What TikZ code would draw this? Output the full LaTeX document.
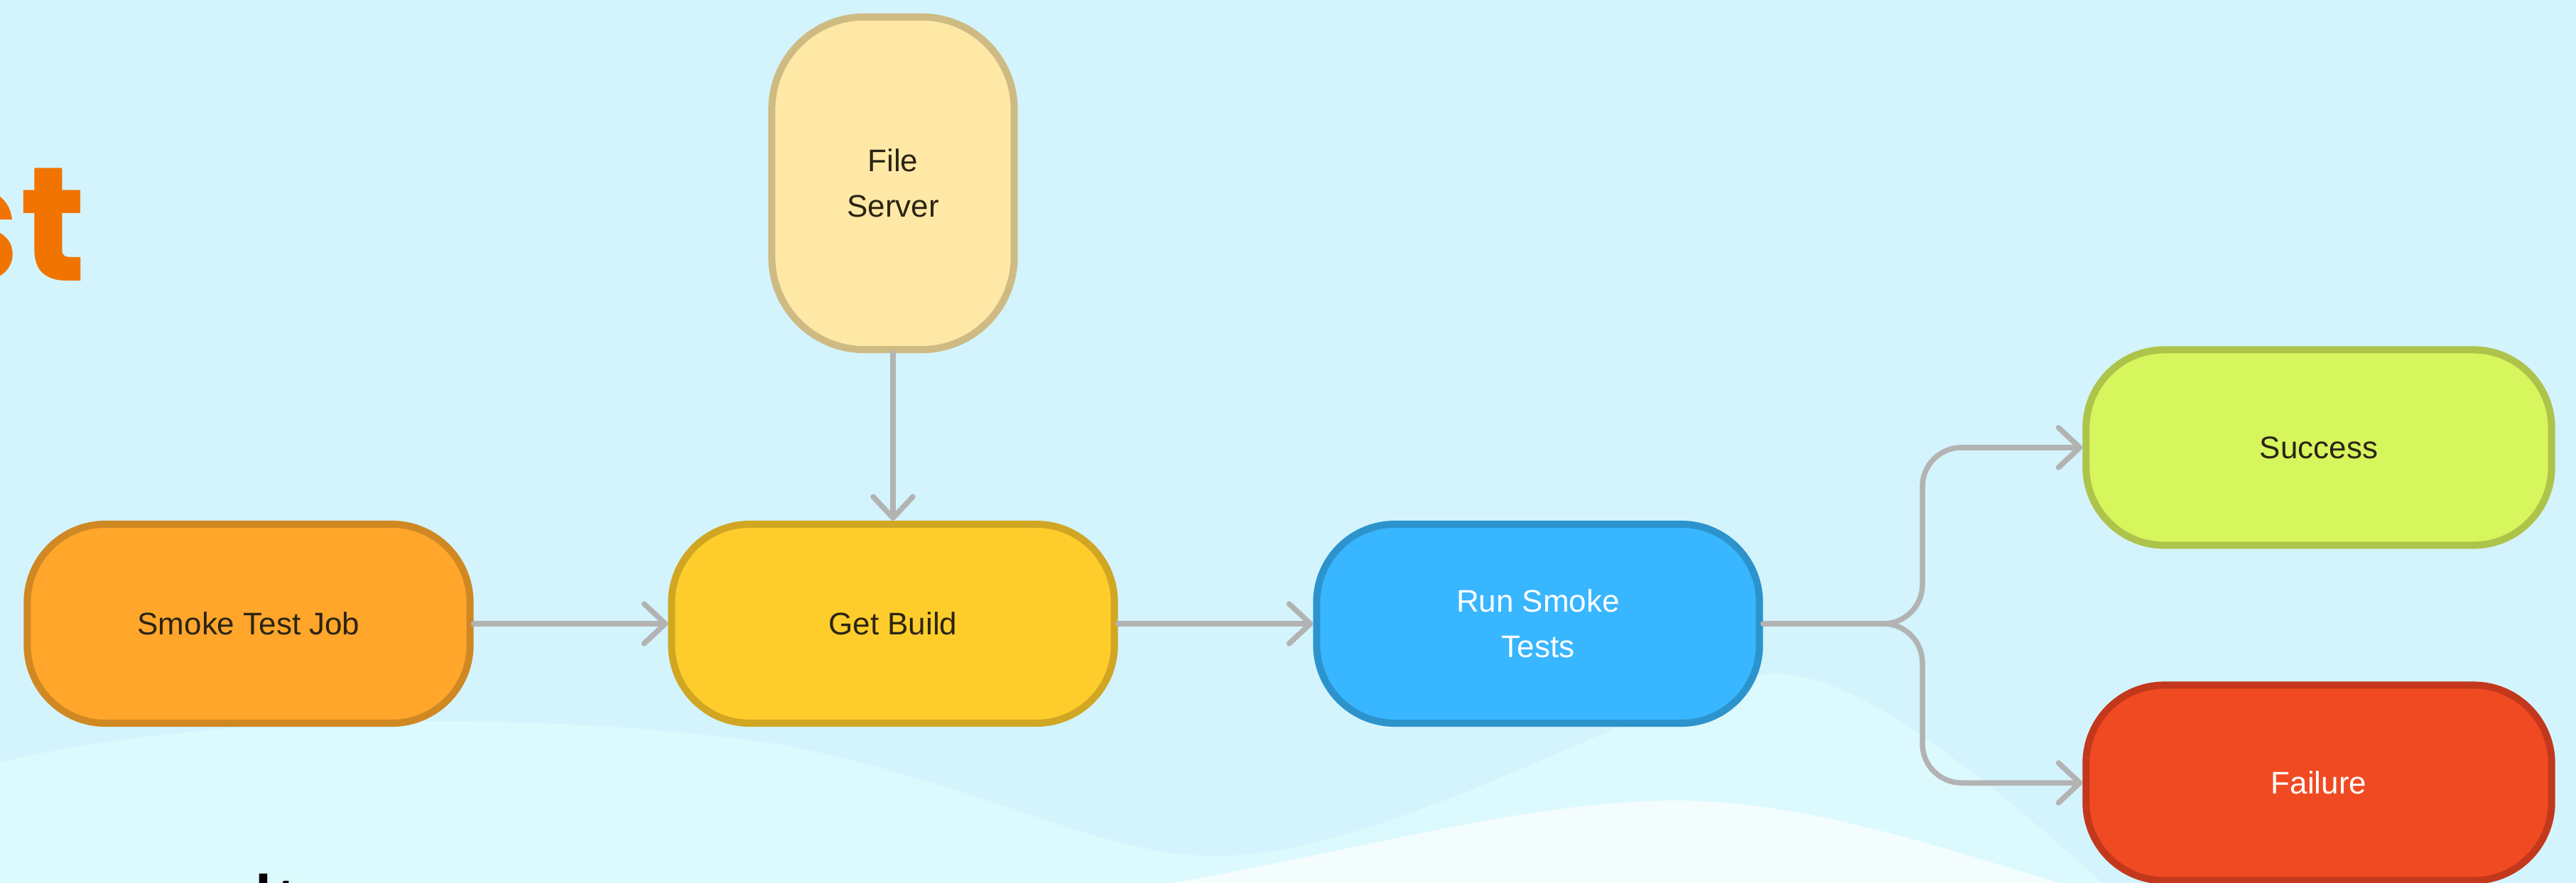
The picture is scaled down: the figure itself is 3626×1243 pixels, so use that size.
\documentclass[tikz,border=0pt]{standalone}
\usepackage{fontspec}
\setmainfont{Liberation Sans}
\newfontfamily\titlefont{Poppins}
\usetikzlibrary{arrows.meta}

\definecolor{skyBg}{HTML}{D3F4FD}
\definecolor{skyLight}{HTML}{DCF9FE}
\definecolor{flowGray}{HTML}{B3B3B3}
\definecolor{inkDark}{HTML}{2B2413}
\definecolor{jobFill}{HTML}{FFA62B}
\definecolor{jobLine}{HTML}{D08823}
\definecolor{serverFill}{HTML}{FFE8A6}
\definecolor{serverLine}{HTML}{CEBB83}
\definecolor{buildFill}{HTML}{FECD2C}
\definecolor{buildLine}{HTML}{D1A623}
\definecolor{runFill}{HTML}{38B6FF}
\definecolor{runLine}{HTML}{2C93CD}
\definecolor{okFill}{HTML}{D7F55C}
\definecolor{okLine}{HTML}{AEC34A}
\definecolor{failFill}{HTML}{F04A22}
\definecolor{failLine}{HTML}{C3381C}
\definecolor{titleOrange}{HTML}{F27400}

\begin{document}
\begin{tikzpicture}[x=0.01cm, y=-0.01cm,
  stage/.style={draw, line width=0.1cm, rounded corners=1.1cm,
    minimum width=6.23cm, minimum height=2.8cm, align=center,
    text=inkDark, font=\fontsize{12.5}{18.2}\selectfont},
  flow/.style={draw=flowGray, line width=0.075cm, line cap=round,
    -{Straight Barb[length=0.3cm, width=0.56cm, round]}}]
  \newcommand{\placeStage}[4]{
    \node[stage, #2] (#1) at (#3) {#4};
  }

  \useasboundingbox (0,0) rectangle (3626,1243);
  \fill[skyBg] (0,0) rectangle (3626,1243);
  \fill[skyLight] (0,1243) -- (0,1073)
    .. controls (300,1000) and (800,1000) .. (1110,1050)
    .. controls (1400,1110) and (1550,1205) .. (1711,1205)
    .. controls (1950,1205) and (2300,990) .. (2480,950)
    .. controls (2600,930) and (2800,1100) .. (2960,1243) -- cycle;
  \fill[white, opacity=0.7] (1650,1243)
    .. controls (1900,1200) and (2150,1127) .. (2358,1127)
    .. controls (2550,1127) and (2750,1200) .. (2900,1243) -- cycle;

  \node[anchor=base east, inner sep=0, text=titleOrange,
    font=\titlefont\bfseries\fontsize{65}{70}\selectfont] (title) at (122,396) {st};
  \node[anchor=base west, inner sep=0, text=black,
    font=\fontsize{37}{40}\selectfont] (subtitle) at (356,1324) {lt};

  \placeStage{smoke}{fill=jobFill, draw=jobLine}{350,878}{Smoke Test Job}
  \placeStage{getbuild}{fill=buildFill, draw=buildLine}{1257,878}{Get Build}
  \placeStage{runtests}{fill=runFill, draw=runLine, text=white}{2165,878}{Run Smoke\\Tests}
  \placeStage{fileserver}{fill=serverFill, draw=serverLine, rounded corners=1.3cm,
    minimum width=3.41cm, minimum height=4.68cm}{1257,258}{File\\Server}
  \placeStage{success}{fill=okFill, draw=okLine,
    minimum width=6.55cm, minimum height=2.75cm}{3264,630}{Success}
  \placeStage{failure}{fill=failFill, draw=failLine, text=white,
    minimum width=6.55cm, minimum height=2.75cm}{3264,1102}{Failure}

  \coordinate (fork) at (2706,878);

  \draw[flow] (smoke) -- (getbuild);
  \draw[flow] (fileserver) -- (getbuild);
  \draw[flow] (getbuild) -- (runtests);
  \draw[flow, rounded corners=0.55cm] (runtests.east) -- (fork) |- (success.west);
  \draw[flow, rounded corners=0.55cm] (runtests.east) -- (fork) |- (failure.west);
\end{tikzpicture}
\end{document}
